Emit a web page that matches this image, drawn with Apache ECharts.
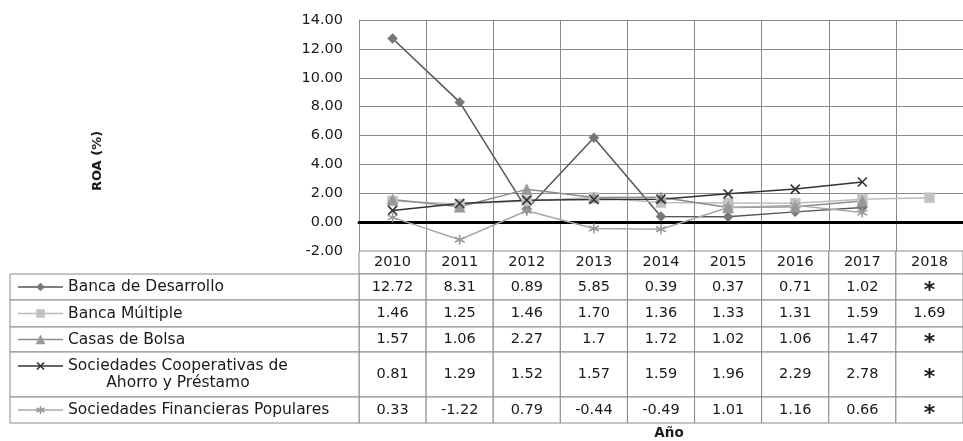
<!DOCTYPE html>
<html><head><meta charset="utf-8">
<script src="https://cdn.jsdelivr.net/npm/echarts@6/dist/echarts.min.js"></script>
<style>html,body{margin:0;padding:0;background:#fff}#c{width:963px;height:441px}</style>
</head><body><div id="c"></div><script>
// ---- data ----
const years = ['2010','2011','2012','2013','2014','2015','2016','2017','2018'];
const seriesNames = ['Banca de Desarrollo','Banca Múltiple','Casas de Bolsa','Sociedades Cooperativas de\nAhorro y Préstamo','Sociedades Financieras Populares'];
const bancaDesarrollo = [12.72, 8.31, 0.89, 5.85, 0.39, 0.37, 0.71, 1.02, null];
const bancaMultiple   = [1.46, 1.25, 1.46, 1.70, 1.36, 1.33, 1.31, 1.59, 1.69];
const casasBolsa      = [1.57, 1.06, 2.27, 1.7, 1.72, 1.02, 1.06, 1.47, null];
const cooperativas    = [0.81, 1.29, 1.52, 1.57, 1.59, 1.96, 2.29, 2.78, null];
const financieras     = [0.33, -1.22, 0.79, -0.44, -0.49, 1.01, 1.16, 0.66, null];
const yMin = -2, yMax = 14, yInterval = 2;
const allSeries = [bancaDesarrollo, bancaMultiple, casasBolsa, cooperativas, financieras];
const fixedTwo = [false, true, false, false, false];

// ---- styles ----
const FONT = '"DejaVu Sans", sans-serif';
const GRID_COLOR = '#8a8a8a';
const symbols = [
  'path://M5,0L10,5L5,10L0,5Z',
  'path://M0,0H10V10H0Z',
  'path://M5,0L10,10L0,10Z',
  'path://M0,0L10,10M10,0L0,10',
  'path://M5,0V10M0,2.5L10,7.5M10,2.5L0,7.5'
];
const lineColors = ['#555555', '#bdbdbd', '#8c8c8c', '#333333', '#a8a8a8'];
const markColors = ['#777777', '#c2c2c2', '#999999', '#333333', '#9a9a9a'];
const markSizes = [10, 10, 11, 9, 10];
const markStroke = [0.5, 0.5, 0.5, 1.6, 1.6];
const rowHeights = [23, 26, 27, 25, 45, 26];
const rowTops = [];
rowHeights.reduce((a, h) => { rowTops.push(a); return a + h; }, 0);
const tableTotal = rowHeights.reduce((a, b) => a + b, 0);

function fmt(s, c) {
  const v = allSeries[s][c];
  if (v === null || v === undefined) return '*';
  return fixedTwo[s] ? v.toFixed(2) : String(v);
}

const cellData = [];
for (let r = 0; r < rowHeights.length; r++) for (let c = 0; c < years.length; c++) cellData.push([c, r]);
const legendData = seriesNames.map((n, i) => [0, i]);

const measureCtx = document.createElement('canvas').getContext('2d');

function cellItem(params, api) {
  const c = api.value(0), r = api.value(1);
  const cx = api.coord([c, 0])[0];
  const w = api.size([1, 0])[0];
  const y0 = api.coord([c, rowTops[r]])[1];
  const y1 = api.coord([c, rowTops[r] + rowHeights[r]])[1];
  const txt = r === 0 ? years[c] : fmt(r - 1, c);
  const star = txt === '*';
  return { type: 'group', children: [
    { type: 'rect', shape: { x: cx - w / 2, y: y0, width: w, height: y1 - y0 },
      style: { fill: '#fff', stroke: GRID_COLOR, lineWidth: 1 } },
    { type: 'text', style: { text: txt, x: cx, y: (y0 + y1) / 2 + (star ? 4 : 0),
      align: 'center', verticalAlign: 'middle', fontSize: star ? 22 : 14.5,
      fontWeight: star ? 'bold' : 'normal', fontFamily: FONT, fill: '#1a1a1a' } }
  ]};
}

function legendItem(params, api) {
  const s = api.value(1);
  const r = s + 1;
  const w = api.size([1, 0])[0];
  const right = api.coord([0, 0])[0] - w / 2;
  const left = 10;
  const y0 = api.coord([0, rowTops[r]])[1];
  const y1 = api.coord([0, rowTops[r] + rowHeights[r]])[1];
  const name = seriesNames[s];
  const lines = name.split('\n');
  const lh = 17;
  const ly = (y0 + y1) / 2 - (lines.length - 1) * lh / 2;
  const sz = markSizes[s] - 2;
  const children = [
    { type: 'rect', shape: { x: left, y: y0, width: right - left, height: y1 - y0 },
      style: { fill: '#fff', stroke: GRID_COLOR, lineWidth: 1 } },
    { type: 'line', shape: { x1: 18, y1: ly, x2: 63, y2: ly },
      style: { stroke: lineColors[s], lineWidth: 1.5 } },
    { type: 'path', shape: { pathData: symbols[s].replace('path://', ''), x: 40.5 - sz / 2, y: ly - sz / 2, width: sz, height: sz, layout: 'center' },
      style: { fill: markColors[s], stroke: markColors[s], lineWidth: markStroke[s] } }
  ];
  const fs = 15.5;
  if (lines.length === 1) {
    children.push({ type: 'text', style: { text: name, x: 68, y: ly, align: 'left', verticalAlign: 'middle',
      fontSize: fs, fontFamily: FONT, fill: '#1a1a1a' } });
  } else {
    measureCtx.font = fs + 'px ' + FONT;
    const wmax = Math.max.apply(null, lines.map(l => measureCtx.measureText(l).width));
    children.push({ type: 'text', style: { text: name, x: 68 + wmax / 2, y: (y0 + y1) / 2, align: 'center', verticalAlign: 'middle',
      lineHeight: lh, fontSize: fs, fontFamily: FONT, fill: '#1a1a1a' } });
  }
  return { type: 'group', children };
}

const lineSeries = allSeries.map((d, i) => ({
  type: 'line', name: seriesNames[i], xAxisIndex: 0, yAxisIndex: 0, data: d,
  symbol: symbols[i], symbolSize: markSizes[i], showAllSymbol: true,
  lineStyle: { color: lineColors[i], width: 1.5 },
  itemStyle: { color: markColors[i], borderColor: markColors[i], borderWidth: markStroke[i] },
  z: 3
}));

const chart = echarts.init(document.getElementById('c'), null, { renderer: 'canvas' });
chart.setOption({
  animation: false,
  backgroundColor: '#fff',
  grid: [
    { left: 359, top: 20, width: 619, height: 231, containLabel: false },
    { left: 359, top: 251, width: 619, height: tableTotal, containLabel: false }
  ],
  xAxis: [
    { type: 'category', gridIndex: 0, data: years, boundaryGap: true,
      axisLabel: { show: false }, axisTick: { show: false },
      axisLine: { show: true, onZero: true, lineStyle: { color: '#000', width: 3 } },
      splitLine: { show: true, interval: 0, lineStyle: { color: GRID_COLOR, width: 1 } } },
    { type: 'category', gridIndex: 1, data: years, boundaryGap: true, show: false }
  ],
  yAxis: [
    { type: 'value', gridIndex: 0, min: yMin, max: yMax, interval: yInterval,
      axisLine: { show: true, lineStyle: { color: GRID_COLOR, width: 1 } },
      axisTick: { show: false },
      axisLabel: { formatter: v => v.toFixed(2), fontSize: 14.5, fontFamily: FONT, color: '#1a1a1a', margin: 16 },
      splitLine: { show: true, lineStyle: { color: GRID_COLOR, width: 1 } } },
    { type: 'value', gridIndex: 1, min: 0, max: tableTotal, inverse: true, show: false }
  ],
  series: lineSeries.concat([
    { type: 'custom', xAxisIndex: 1, yAxisIndex: 1, data: cellData, renderItem: cellItem, clip: false, silent: true, z: 1 },
    { type: 'custom', xAxisIndex: 1, yAxisIndex: 1, data: legendData, renderItem: legendItem, clip: false, silent: true, z: 1 }
  ]),
  graphic: [
    { type: 'text', x: 98, y: 161, rotation: Math.PI / 2,
      style: { text: 'ROA (%)', align: 'center', verticalAlign: 'middle', fontSize: 13, fontWeight: 'bold', fontFamily: FONT, fill: '#1a1a1a' } },
    { type: 'text', x: 669, y: 433,
      style: { text: 'Año', align: 'center', verticalAlign: 'middle', fontSize: 13.5, fontWeight: 'bold', fontFamily: FONT, fill: '#1a1a1a' } }
  ]
});
</script></body></html>
